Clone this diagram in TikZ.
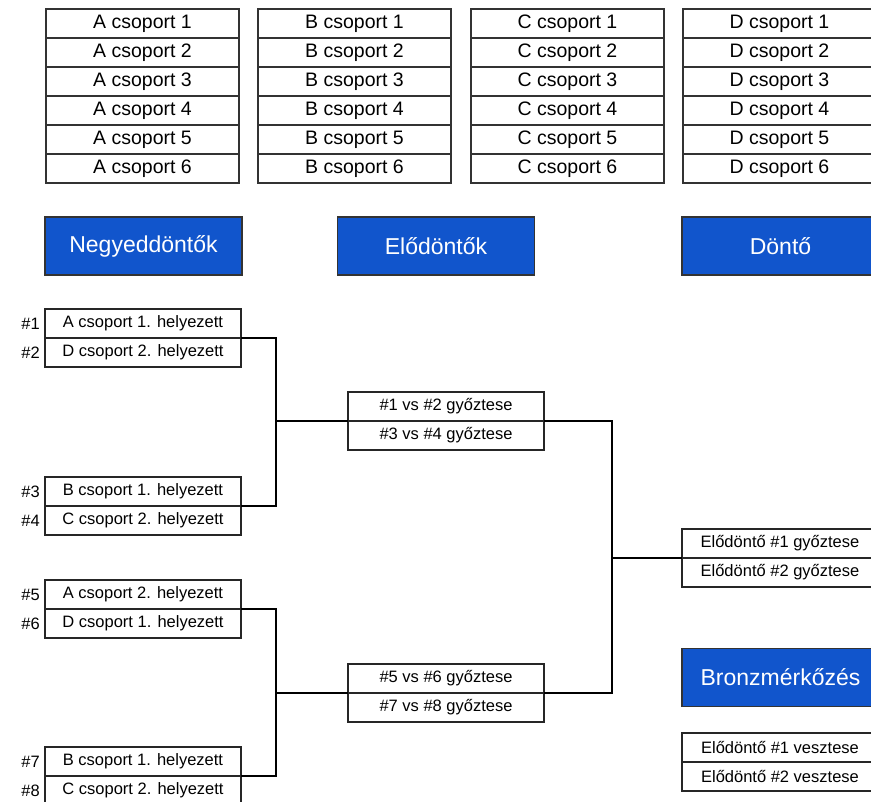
\documentclass[tikz,border=0pt]{standalone}
\usepackage{fontspec}
\setmainfont{Liberation Sans}
\usetikzlibrary{positioning}
\definecolor{stageblue}{RGB}{17,85,204}
\tikzset{
    groupcell/.style={draw=black!80, line width=1.2pt, outer sep=0pt, inner sep=0pt, minimum width=193pt, minimum height=29pt, font=\fontsize{19.5}{22}\selectfont},
    bracketcell/.style={draw=black!85, line width=1.2pt, outer sep=0pt, inner sep=0pt, minimum width=196pt, minimum height=29pt, font=\fontsize{16.5}{19}\selectfont},
    stagehead/.style={draw=black!80, fill=stageblue, text=white, line width=1.2pt, minimum width=197pt, minimum height=58pt, font=\fontsize{23}{27}\selectfont},
    seedlabel/.style={inner sep=0pt, font=\fontsize{16.5}{19}\selectfont},
    bracketline/.style={line width=1.2pt}
}

\begin{document}
\begin{tikzpicture}[x=1pt, y=-1pt]
    \path[use as bounding box, clip] (0,0) rectangle (871,802);
    % csoportok
    \foreach \g/\x in {A/142.5, B/354.5, C/567.5, D/779.5} {
        \node[groupcell] (\g1) at (\x,23.5) {\g\ csoport 1};
        \foreach \r [remember=\r as \p (initially 1)] in {2,...,6}
            \node[groupcell, below=0pt of \g\p] (\g\r) {\g\ csoport \r};
    }
    \node[stagehead] (hq) at (143.5,246) {Negyeddöntők};
    \node[stagehead] (hs) at (436,246) {Elődöntők};
    \node[stagehead] (hf) at (780.5,246) {Döntő};
    \node[stagehead] (hb) at (780.5,677.5) {Bronzmérkőzés};
    % negyeddöntők
    \node[bracketcell] (q1) at (143,323.5) {A csoport 1. helyezett};
    \node[bracketcell, below=0pt of q1] (q2) {D csoport 2. helyezett};
    \node[bracketcell] (q3) at (143,491.5) {B csoport 1. helyezett};
    \node[bracketcell, below=0pt of q3] (q4) {C csoport 2. helyezett};
    \node[bracketcell] (q5) at (143,594.5) {A csoport 2. helyezett};
    \node[bracketcell, below=0pt of q5] (q6) {D csoport 1. helyezett};
    \node[bracketcell] (q7) at (143,761.5) {B csoport 1. helyezett};
    \node[bracketcell, below=0pt of q7] (q8) {C csoport 2. helyezett};
    \foreach \i in {1,...,8}
        \node[seedlabel, left=5pt of q\i] (n\i) {\#\i};
    % elődöntők, döntő, bronz
    \node[bracketcell] (s1) at (446,406.5) {\#1 vs \#2 győztese};
    \node[bracketcell, below=0pt of s1] (s2) {\#3 vs \#4 győztese};
    \node[bracketcell] (s3) at (446,678.5) {\#5 vs \#6 győztese};
    \node[bracketcell, below=0pt of s3] (s4) {\#7 vs \#8 győztese};
    \node[bracketcell] (f1) at (780,543.5) {Elődöntő \#1 győztese};
    \node[bracketcell, below=0pt of f1] (f2) {Elődöntő \#2 győztese};
    \node[bracketcell] (b1) at (780,747.5) {Elődöntő \#1 vesztese};
    \node[bracketcell, below=0pt of b1] (b2) {Elődöntő \#2 vesztese};
    % ágak
    \coordinate (m1) at ([xshift=35pt]q1.south east);
    \coordinate (m2) at ([xshift=35pt]q5.south east);
    \coordinate (m3) at ([xshift=68pt]s1.south east);
    \draw[bracketline] (q1.south east) -- (m1) |- (q3.south east);
    \draw[bracketline] (m1 |- s1.south west) -- (s1.south west);
    \draw[bracketline] (q5.south east) -- (m2) |- (q7.south east);
    \draw[bracketline] (m2 |- s3.south west) -- (s3.south west);
    \draw[bracketline] (s1.south east) -- (m3) |- (s3.south east);
    \draw[bracketline] (m3 |- f1.south west) -- (f1.south west);
\end{tikzpicture}
\end{document}
